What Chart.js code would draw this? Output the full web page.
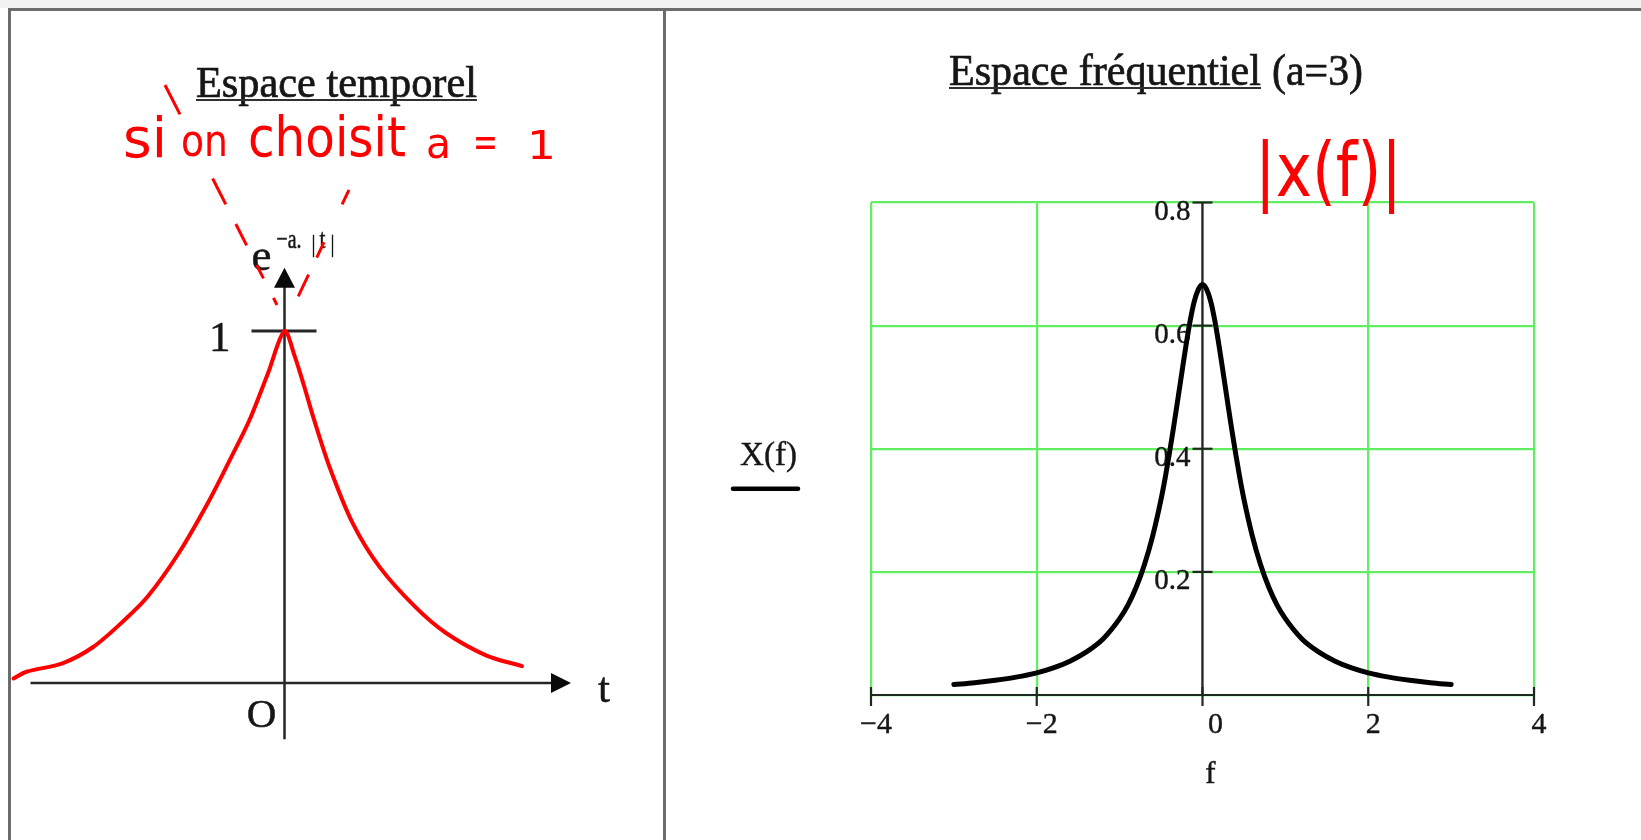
<!DOCTYPE html>
<html>
<head>
<meta charset="utf-8">
<title>Espace temporel / Espace fréquentiel</title>
<script src="https://cdn.jsdelivr.net/npm/chart.js@4.4.1/dist/chart.umd.min.js"></script>
<style>
  html, body { margin: 0; padding: 0; background: #fff; }
  #page { position: relative; width: 1641px; height: 840px; overflow: hidden; background: #fff; }
  .rule { position: absolute; background: #6c6c6c; }
  canvas { position: absolute; left: 0; top: 0; }
</style>
</head>
<body>
<div id="page">
  <div style="position:absolute;left:0;top:0;width:1641px;height:8px;background:#f2f2f2"></div>
  <div class="rule" style="left:8px;top:8px;width:1633px;height:2.5px"></div>
  <div class="rule" style="left:8px;top:8px;width:2.5px;height:832px"></div>
  <div class="rule" style="left:663px;top:8px;width:2.5px;height:832px"></div>
  <canvas id="timeChart" width="1641" height="840"></canvas>
  <canvas id="freqChart" width="1641" height="840"></canvas>
</div>
<script>
// --- left panel: e^(-a|t|) sketched by hand with a = 1 ---
const timeT = [-2.71, -2.58, -2.22, -1.91, -1.60, -1.37, -1.06, -0.75, -0.53, -0.35, -0.165, 0,
               0.1, 0.2, 0.29, 0.455, 0.68, 0.95, 1.305, 1.615, 2.02, 2.375];
const timeV = [0.013, 0.032, 0.056, 0.103, 0.179, 0.245, 0.368, 0.520, 0.643, 0.747, 0.88, 1.0,
               0.93, 0.84, 0.753, 0.61, 0.455, 0.33, 0.217, 0.142, 0.078, 0.048];

// dashed pointers from the note down to the peak
const guideLeftT = [-1.195, -0.075];
const guideLeftV = [1.699, 1.074];
const guideRightT = [0.645, 0.135];
const guideRightV = [1.401, 1.097];

// arrowed axes extents and the single tick on the vertical axis
const timeAxisT = [-2.54, 2.865];
const timeAxisV = [-0.16, 1.18];
const timeTickV = 1;

// --- right panel: |X(f)| for a = 3 ---
const freq = [-3, -2.75, -2.5, -2.25, -2, -1.8, -1.6, -1.4, -1.2, -1, -0.9, -0.8, -0.7, -0.6, -0.5,
              -0.45, -0.4, -0.35, -0.3, -0.25, -0.2, -0.15, -0.1, -0.05, 0,
              0.05, 0.1, 0.15, 0.2, 0.25, 0.3, 0.35, 0.4, 0.45, 0.5, 0.6, 0.7, 0.8, 0.9, 1,
              1.2, 1.4, 1.6, 1.8, 2, 2.25, 2.5, 2.75, 3];
const mag = [0.017, 0.020, 0.024, 0.029, 0.036, 0.044, 0.055, 0.070, 0.091, 0.124, 0.146, 0.175, 0.212, 0.259, 0.318,
             0.353, 0.392, 0.434, 0.478, 0.523, 0.567, 0.607, 0.639, 0.659, 0.667,
             0.659, 0.639, 0.607, 0.567, 0.523, 0.478, 0.434, 0.392, 0.353, 0.318, 0.259, 0.212, 0.175, 0.146, 0.124,
             0.091, 0.070, 0.055, 0.044, 0.036, 0.029, 0.024, 0.020, 0.017];
const freqTicks = [-4, -2, 0, 2, 4];
const magTicks = [0.2, 0.4, 0.6, 0.8];

const SERIF = '"Liberation Serif", "Times New Roman", serif';
const HAND = '"DejaVu Sans", sans-serif';
const INK = '#161616';
const PEN = '#ff0000';

function pts(xs, ys) {
  return xs.map((v, i) => ({ x: v, y: ys[i] }));
}

// squeeze or stretch a string so it spans [left, right]; optional outline thickens scanned-looking type
function fitText(ctx, text, left, right, baseline, sy, outline) {
  const w = ctx.measureText(text).width;
  ctx.save();
  ctx.translate(left, baseline);
  ctx.scale((right - left) / w, sy || 1);
  ctx.textAlign = 'left';
  ctx.textBaseline = 'alphabetic';
  ctx.fillText(text, 0, 0);
  if (outline) {
    ctx.strokeStyle = ctx.fillStyle;
    ctx.lineWidth = outline;
    ctx.strokeText(text, 0, 0);
  }
  ctx.restore();
}

function inkText(ctx, text, x, y, outline) {
  ctx.fillText(text, x, y);
  ctx.save();
  ctx.strokeStyle = ctx.fillStyle;
  ctx.lineWidth = outline || 0.5;
  ctx.strokeText(text, x, y);
  ctx.restore();
}

function seg(ctx, x1, y1, x2, y2) {
  ctx.beginPath();
  ctx.moveTo(x1, y1);
  ctx.lineTo(x2, y2);
  ctx.stroke();
}

const timeAxes = {
  id: 'timeAxes',
  beforeDatasetsDraw(chart) {
    const { ctx, scales: { x, y } } = chart;
    const x0 = x.getPixelForValue(0), y0 = y.getPixelForValue(0);
    const xl = x.getPixelForValue(timeAxisT[0]), xr = x.getPixelForValue(timeAxisT[1]);
    const yb = y.getPixelForValue(timeAxisV[0]), yt = y.getPixelForValue(timeAxisV[1]);
    const y1 = y.getPixelForValue(timeTickV);
    ctx.save();
    ctx.strokeStyle = '#262626';
    ctx.fillStyle = '#0a0a0a';
    ctx.lineWidth = 2.5;
    seg(ctx, xl, y0, xr - 18, y0);
    seg(ctx, x0, yb, x0, yt + 18);
    // arrow heads
    ctx.beginPath();
    ctx.moveTo(xr, y0); ctx.lineTo(xr - 20, y0 - 10); ctx.lineTo(xr - 20, y0 + 10); ctx.closePath();
    ctx.fill();
    ctx.beginPath();
    ctx.moveTo(x0, yt); ctx.lineTo(x0 - 10.5, yt + 20); ctx.lineTo(x0 + 10.5, yt + 20); ctx.closePath();
    ctx.fill();
    // tick at 1
    ctx.lineWidth = 3;
    seg(ctx, x0 - 33, y1, x0 + 32, y1);

    ctx.fillStyle = INK;
    ctx.textBaseline = 'alphabetic';
    ctx.font = '43px ' + SERIF;
    ctx.textAlign = 'right';
    inkText(ctx, '1', x0 - 54, y1 + 20);
    ctx.textAlign = 'center';
    ctx.font = '41px ' + SERIF;
    inkText(ctx, 'O', x0 - 23, y0 + 44);
    ctx.textAlign = 'left';
    ctx.font = '43px ' + SERIF;
    inkText(ctx, 't', xr + 27, y0 + 19);
    // e^(-a.|t|)
    ctx.font = '45px ' + SERIF;
    inkText(ctx, 'e', x0 - 33, yt + 2);
    ctx.font = '25px ' + SERIF;
    fitText(ctx, '\u2212a.', x0 - 8, x0 + 17, yt - 20, 1.1, 0.5);
    ctx.font = '24px ' + SERIF;
    fitText(ctx, '|', x0 + 27, x0 + 31, yt - 16, 1.05, 0.4);
    fitText(ctx, 't', x0 + 35, x0 + 41, yt - 20, 1.1, 0.4);
    fitText(ctx, '|', x0 + 46, x0 + 50, yt - 16, 1.05, 0.4);

    // panel title
    ctx.font = '43px ' + SERIF;
    fitText(ctx, 'Espace temporel', 196, 477, 97, 1.05, 0.7);
    ctx.lineWidth = 2.2;
    ctx.strokeStyle = '#303030';
    seg(ctx, 196, 100, 477, 100);

    // handwritten note
    ctx.fillStyle = PEN;
    ctx.font = '42px ' + HAND;
    fitText(ctx, 'si', 123, 167, 157, 1.3);
    fitText(ctx, 'on', 181, 228, 156, 1.05);
    fitText(ctx, 'choisit', 248, 406, 156, 1.3);
    fitText(ctx, 'a', 426, 451, 158, 1.0);
    fitText(ctx, '=', 473, 498, 156, 1.0);
    fitText(ctx, '1', 527, 556, 159, 0.95);
    ctx.restore();
  }
};

new Chart(document.getElementById('timeChart'), {
  type: 'line',
  data: {
    datasets: [
      { data: pts(timeT, timeV), borderColor: PEN, borderWidth: 4, pointRadius: 0,
        tension: 0.3, fill: false, clip: false, borderCapStyle: 'round' },
      { data: pts(guideLeftT, guideLeftV), borderColor: PEN, borderWidth: 3, pointRadius: 0,
        borderDash: [33, 72, 29, 22, 24, 22, 15, 22, 10, 200], clip: false },
      { data: pts(guideRightT, guideRightV), borderColor: PEN, borderWidth: 3, pointRadius: 0,
        borderDash: [16, 42, 17, 19, 24, 200], clip: false }
    ]
  },
  options: {
    responsive: false,
    animation: false,
    events: [],
    layout: { padding: { left: 4.5, right: 1036.5, top: 260.6, bottom: 86.6 } },
    scales: {
      x: { type: 'linear', display: false, min: -2.8, max: 3.2 },
      y: { type: 'linear', display: false, min: -0.2, max: 1.2 }
    },
    plugins: { legend: { display: false }, tooltip: { enabled: false } }
  },
  plugins: [timeAxes]
});

const freqAxes = {
  id: 'freqAxes',
  beforeDatasetsDraw(chart) {
    const { ctx, chartArea: area, scales: { x, y } } = chart;
    const x0 = x.getPixelForValue(0), y0 = y.getPixelForValue(0);
    ctx.save();
    ctx.strokeStyle = '#1d2a1d';
    ctx.lineWidth = 2.2;
    seg(ctx, x.getPixelForValue(freqTicks[0]), y0, x.getPixelForValue(freqTicks[freqTicks.length - 1]), y0);
    seg(ctx, x0, y0, x0, y.getPixelForValue(magTicks[magTicks.length - 1]));
    freqTicks.forEach(v => {
      const px = x.getPixelForValue(v);
      seg(ctx, px, y0 - 8, px, y0 + 11);
    });
    magTicks.forEach(v => {
      const py = y.getPixelForValue(v);
      seg(ctx, x0 - 10, py, x0 + 10, py);
    });

    ctx.fillStyle = INK;
    ctx.textBaseline = 'alphabetic';
    ctx.font = '29px ' + SERIF;
    ctx.textAlign = 'right';
    magTicks.forEach(v => {
      inkText(ctx, v.toFixed(1), x0 - 12, y.getPixelForValue(v) + 17, 0.4);
    });
    ctx.font = '30px ' + SERIF;
    ctx.textAlign = 'center';
    freqTicks.forEach(v => {
      const label = v < 0 ? '\u2212' + Math.abs(v) : String(v);
      const shift = v === 0 ? 13 : 5;
      inkText(ctx, label, x.getPixelForValue(v) + shift, y0 + 38, 0.4);
    });
    ctx.font = '31px ' + SERIF;
    inkText(ctx, 'f', x0 + 8, y0 + 88, 0.4);

    // trace label with its line sample
    const mid = (area.top + area.bottom) / 2;
    ctx.font = '32px ' + SERIF;
    fitText(ctx, 'X(f)', area.left - 131, area.left - 74, mid + 16, 1.05, 0.4);
    ctx.strokeStyle = '#000';
    ctx.lineWidth = 4.5;
    ctx.lineCap = 'round';
    seg(ctx, area.left - 138, mid + 40, area.left - 73, mid + 40);
    ctx.lineCap = 'butt';

    // panel title
    ctx.font = '43px ' + SERIF;
    fitText(ctx, 'Espace fréquentiel', 949, 1261, 85, 1.05, 0.7);
    fitText(ctx, '(a=3)', 1272, 1363, 85, 1.05, 0.7);
    ctx.strokeStyle = '#303030';
    ctx.lineWidth = 2.2;
    seg(ctx, 949, 88, 1261, 88);

    // handwritten |x(f)|
    ctx.fillStyle = PEN;
    ctx.font = '50px ' + HAND;
    fitText(ctx, '|x(f)|', 1255, 1402, 196, 1.5);
    ctx.restore();
  }
};

new Chart(document.getElementById('freqChart'), {
  type: 'line',
  data: {
    datasets: [{
      data: pts(freq, mag),
      borderColor: '#000',
      borderWidth: 5,
      pointRadius: 0,
      cubicInterpolationMode: 'monotone',
      fill: false,
      borderCapStyle: 'round'
    }]
  },
  options: {
    responsive: false,
    animation: false,
    events: [],
    layout: { padding: { left: 871, right: 107, top: 202.5, bottom: 145 } },
    scales: {
      x: {
        type: 'linear', min: -4, max: 4,
        ticks: { display: false, stepSize: 2 },
        border: { display: false },
        grid: { color: 'rgb(98, 238, 98)', lineWidth: 2.2, drawTicks: false }
      },
      y: {
        type: 'linear', min: 0, max: 0.8,
        ticks: { display: false, stepSize: 0.2 },
        border: { display: false },
        grid: { color: 'rgb(98, 238, 98)', lineWidth: 2.2, drawTicks: false }
      }
    },
    plugins: { legend: { display: false }, tooltip: { enabled: false } }
  },
  plugins: [freqAxes]
});
</script>
</body>
</html>
